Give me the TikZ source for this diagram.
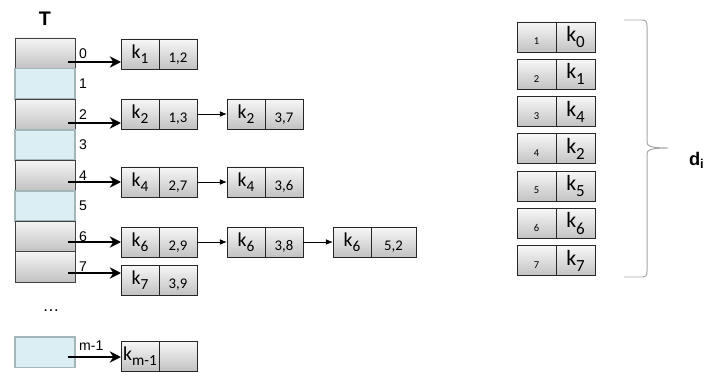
\documentclass[tikz,border=0pt]{standalone}
\usepackage{fontspec}
\setmainfont{Carlito}
\newfontfamily\arial{Liberation Sans}
\usepackage{xcolor}
\usetikzlibrary{arrows.meta,positioning,calc}

\definecolor{slotblue}{HTML}{DBEEF3}
\definecolor{slotedge}{HTML}{A3B6B9}
\definecolor{cellgray}{HTML}{C2C2C2}
\definecolor{bracegray}{HTML}{A6A6A6}

% lowered index as in the boxes
\newcommand\lo[1]{\raisebox{-.28em}{\scalebox{.78}{#1}}}

\begin{document}
\begin{tikzpicture}[
  x=0.025cm, y=-0.025cm,
  every node/.style={inner sep=0pt, outer sep=0pt},
  slot/.style={rectangle, draw=black!75, line width=0.6pt, top color=gray!8, bottom color=cellgray, minimum width=1.5cm, minimum height=0.7625cm},
  freeslot/.style={rectangle, draw=slotedge, line width=1.4pt, fill=slotblue, minimum width=1.5cm, minimum height=0.7625cm},
  keycell/.style={rectangle, draw=black!85, line width=0.6pt, top color=gray!6, bottom color=cellgray, minimum width=0.95cm, minimum height=0.75cm, font=\fontsize{14}{16}\selectfont},
  valcell/.style={keycell, font=\fontsize{10.5}{12}\selectfont, text height=12.5pt, text depth=0pt},
  poscell/.style={keycell, minimum width=0.975cm, font=\fontsize{7.5}{9}\selectfont, text height=11pt, text depth=0pt},
  kcell/.style={keycell, minimum width=0.975cm, font=\fontsize{15.5}{17}\selectfont},
  idx/.style={font=\arial\fontsize{10}{12}\selectfont, inner sep=3pt},
  title/.style={font=\arial\bfseries\fontsize{14}{16}\selectfont},
  ptr/.style={-{Stealth[length=8pt,width=8pt]}, line width=1.7pt},
  link/.style={-{Latex[length=5pt,width=4pt]}, line width=0.6pt},
  brace/.style={draw=bracegray, line width=0.7pt}
]
\useasboundingbox (0,0) rectangle (708,373);

% table T
\node[slot, anchor=north west, label={[idx]east:0}] (t0) at (15,38) {};
\node[freeslot, below=0pt of t0, label={[idx]east:1}] (t1) {};
\node[slot, below=0pt of t1, label={[idx]east:2}] (t2) {};
\node[freeslot, below=0pt of t2, label={[idx]east:3}] (t3) {};
\node[slot, below=0pt of t3, label={[idx]east:4}] (t4) {};
\node[freeslot, below=0pt of t4, label={[idx]east:5}] (t5) {};
\node[slot, below=0pt of t5, label={[idx]east:6}] (t6) {};
\node[slot, below=0pt of t6, label={[idx]east:7}] (t7) {};
\node[idx, font=\arial\fontsize{12}{12}\selectfont] (dots) at (51,311) {\dots};
\node[freeslot, anchor=north west, label={[idx, yshift=5pt]east:m-1}] (tm) at (15,337) {};
\node[title, above=9pt of t0] (T) {T};

% chains
\node[keycell, anchor=north west] (k0) at (121,39) {k\lo{1}};
\node[valcell, right=0pt of k0] (v0) {1,2};

\node[keycell, anchor=north west] (k2) at (121,99) {k\lo{2}};
\node[valcell, right=0pt of k2] (v2) {1,3};
\node[keycell, anchor=north west] (k2b) at (227,99) {k\lo{2}};
\node[valcell, right=0pt of k2b] (v2b) {3,7};

\node[keycell, anchor=north west] (k4) at (121,167) {k\lo{4}};
\node[valcell, right=0pt of k4] (v4) {2,7};
\node[keycell, anchor=north west] (k4b) at (227,167) {k\lo{4}};
\node[valcell, right=0pt of k4b] (v4b) {3,6};

\node[keycell, anchor=north west] (k6) at (121,227) {k\lo{6}};
\node[valcell, right=0pt of k6] (v6) {2,9};
\node[keycell, anchor=north west] (k6b) at (227,227) {k\lo{6}};
\node[valcell, right=0pt of k6b] (v6b) {3,8};
\node[keycell, anchor=north west] (k6c) at (333,227) {k\lo{6}};
\node[valcell, right=0pt of k6c, minimum width=1.125cm] (v6c) {5,2};

\node[keycell, anchor=north west] (k7) at (121,265) {k\lo{7}};
\node[valcell, right=0pt of k7] (v7) {3,9};

\node[keycell, anchor=north west] (km) at (121,341) {k\lo{m-1}};
\node[valcell, right=0pt of km] (vm) {};

\foreach \r/\y in {0/62, 2/123, 4/182, 6/242, 7/273, m/357}
  \draw[ptr] ($(t\r.east |- 0,\y)+(-7,0)$) -- (k\r.west |- 0,\y);

\draw[link] (v2) -- (k2b);
\draw[link] (v4) -- (k4b);
\draw[link] (v6) -- (k6b);
\draw[link] (v6b) -- (k6c);

% order d_i
\foreach \i/\s in {1/0,2/1,3/4,4/2,5/5,6/6,7/7} {
  \node[poscell, anchor=north west] (p\i) at (517,{22+37.3*(\i-1)}) {\i};
  \node[kcell, right=0pt of p\i] (q\i) {k\lo{\s}};
}

\draw[brace] (624,20) -- (642,20) .. controls (646,20) and (647,22) .. (647,26) -- (647,142)
  .. controls (647,146) and (650,148) .. (668,148)
  .. controls (650,148) and (647,150) .. (647,154) -- (647,271)
  .. controls (647,275) and (646,277) .. (642,277) -- (624,277);
\node[title, font=\arial\bfseries\fontsize{13}{15}\selectfont, anchor=north west] (di) at (689,152) {d\textsubscript{i}};
\end{tikzpicture}
\end{document}
